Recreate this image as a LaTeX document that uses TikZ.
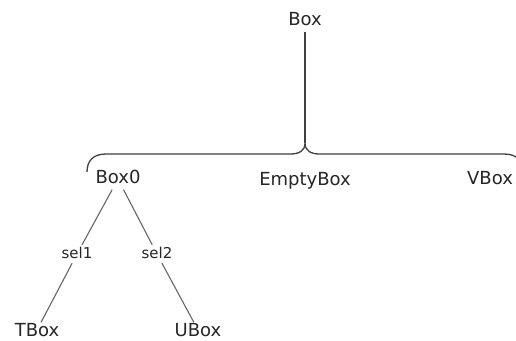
\documentclass[tikz,border=0pt]{standalone}
\usepackage{fontspec}
\setmainfont{DejaVu Sans}
\begin{document}
\begin{tikzpicture}[x=1pt,y=-1pt,
  cls/.style={font=\fontsize{18}{20}\selectfont, text=black!85, text height=13pt, text depth=4pt, inner sep=2pt},
  leaf/.style={cls, text depth=0pt, inner sep=1pt},
  sel/.style={font=\fontsize{15}{17}\selectfont, text=black!85, text height=11pt, text depth=3pt, inner sep=2pt},
  link/.style={draw=black!60, line width=1.1pt},
  bracel/.style={draw=black!75, line width=1.3pt}]
  \clip (0,0) rectangle (516,340);
  \fill[white] (0,0) rectangle (516,340);

  % class nodes
  \node[cls] (box)   at (305,21)  {Box};
  \node[cls] (box0)  at (118,179) {Box0};
  \node[cls] (empty) at (305,181) {EmptyBox};
  \node[cls] (vbox)  at (490,180) {VBox};
  \node[leaf] (tbox) at (37,330)  {TBox};
  \node[leaf] (ubox) at (198,330) {UBox};

  % selector labels
  \node[sel] (sel1) at (77,254)  {sel1};
  \node[sel] (sel2) at (157,254) {sel2};

  % brace joining Box to its subclasses
  \coordinate (tip) at (305,143);
  \draw[bracel] (87,172) .. controls (87,161) and (93,154) .. (106,154)
    -- (290,154) .. controls (299,154) and (305,151) .. (tip)
    .. controls (305,151) and (311,154) .. (320,154)
    -- (504,154) .. controls (517,154) and (523,161) .. (523,172);
  \draw[bracel] (box) -- (tip);

  % selector edges
  \draw[link] (box0) -- (sel1);
  \draw[link] (sel1) -- (tbox);
  \draw[link] (box0) -- (sel2);
  \draw[link] (sel2) -- (ubox);
\end{tikzpicture}
\end{document}
